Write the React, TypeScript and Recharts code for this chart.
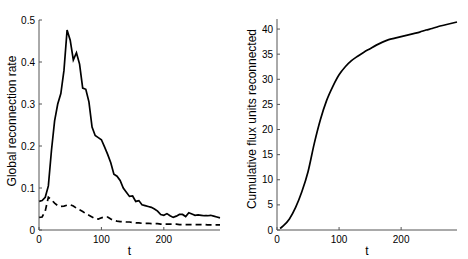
import React from "react";
import { LineChart, Line, XAxis, YAxis } from "recharts";

// ---- Left panel: global reconnection rate ----
const tRate = [0, 5, 10, 15, 20, 25, 30, 35, 40, 45, 50, 55, 60, 65, 70, 75, 80, 85, 90, 95, 100, 105, 110, 115, 120, 125, 130, 135, 140, 145, 150, 155, 160, 165, 170, 175, 180, 185, 190, 195, 200, 205, 210, 215, 220, 225, 230, 235, 240, 245, 250, 255, 260, 265, 270, 275, 280, 285, 290];
const rateSolid = [0.068, 0.07, 0.078, 0.105, 0.19, 0.26, 0.3, 0.325, 0.38, 0.476, 0.452, 0.405, 0.422, 0.395, 0.338, 0.335, 0.305, 0.245, 0.225, 0.22, 0.215, 0.198, 0.18, 0.16, 0.133, 0.128, 0.118, 0.1, 0.09, 0.08, 0.081, 0.068, 0.07, 0.06, 0.058, 0.056, 0.054, 0.05, 0.045, 0.037, 0.035, 0.039, 0.034, 0.03, 0.033, 0.037, 0.037, 0.032, 0.041, 0.038, 0.035, 0.036, 0.035, 0.034, 0.034, 0.035, 0.033, 0.031, 0.029];
const rateDashed = [0.03, 0.031, 0.045, 0.078, 0.072, 0.064, 0.058, 0.056, 0.057, 0.059, 0.06, 0.057, 0.052, 0.048, 0.044, 0.039, 0.035, 0.031, 0.027, 0.026, 0.029, 0.031, 0.031, 0.026, 0.023, 0.021, 0.02, 0.02, 0.019, 0.019, 0.018, 0.017, 0.017, 0.016, 0.016, 0.016, 0.015, 0.015, 0.015, 0.014, 0.014, 0.014, 0.014, 0.014, 0.014, 0.013, 0.013, 0.013, 0.013, 0.013, 0.013, 0.013, 0.013, 0.013, 0.012, 0.012, 0.012, 0.012, 0.012];
const rateTicksY = [0, 0.1, 0.2, 0.3, 0.4, 0.5];

// ---- Right panel: cumulative flux ----
const tCum = [5, 10, 20, 30, 40, 50, 60, 70, 80, 90, 100, 110, 120, 130, 140, 150, 160, 170, 180, 190, 200, 210, 220, 230, 240, 250, 260, 270, 280, 290];
const cumFlux = [0.3, 0.8, 2.2, 4.5, 7.6, 11.6, 17.2, 22.0, 25.8, 28.6, 30.9, 32.5, 33.7, 34.6, 35.4, 36.1, 36.8, 37.4, 37.9, 38.2, 38.5, 38.8, 39.1, 39.4, 39.8, 40.1, 40.5, 40.8, 41.1, 41.4];
const cumTicksY = [0, 5, 10, 15, 20, 25, 30, 35, 40];

const tTicks = [0, 100, 200];

const rateData = tRate.map((t, i) => ({ t, solid: rateSolid[i], dashed: rateDashed[i] }));
const cumData = tCum.map((t, i) => ({ t, v: cumFlux[i] }));

const FONT = "'Liberation Sans', Arial, Helvetica, sans-serif";
const AXIS = "#555";
const H = 259;
const W = 234;

function makeYTick(axisX: number) {
  return (props: any) => {
    const { y, payload } = props;
    return (
      <g>
        <line x1={axisX} x2={axisX + 3} y1={y} y2={y} stroke={AXIS} strokeWidth={1} />
        <text x={axisX - 4} y={y} dy="0.355em" textAnchor="end" fontSize={10} fontFamily={FONT} fill="#000">
          {String(payload.value)}
        </text>
      </g>
    );
  };
}

function makeXTick(axisY: number) {
  return (props: any) => {
    const { x, payload } = props;
    return (
      <g>
        <line x1={x} x2={x} y1={axisY} y2={axisY - 3} stroke={AXIS} strokeWidth={1} />
        <text x={x} y={axisY + 6} dy="0.71em" textAnchor="middle" fontSize={10} fontFamily={FONT} fill="#000">
          {String(payload.value)}
        </text>
      </g>
    );
  };
}

export default function App() {
  const leftAxisX = 39;
  const rightAxisX = 43;
  const axisY = 230;
  return (
    <div style={{ position: "absolute", left: 0, top: 0, width: 468, height: H, background: "#fff", fontFamily: FONT }}>
      <div style={{ position: "absolute", left: 0, top: 0 }}>
        <LineChart width={W} height={H} data={rateData} margin={{ top: 20, right: 14, bottom: 0, left: 0 }}>
          <XAxis
            dataKey="t"
            type="number"
            domain={[0, 290]}
            ticks={tTicks}
            height={29}
            axisLine={{ stroke: AXIS }}
            tickLine={false}
            tick={makeXTick(axisY)}
          />
          <YAxis
            type="number"
            domain={[0, 0.5]}
            ticks={rateTicksY}
            width={leftAxisX}
            axisLine={{ stroke: AXIS }}
            tickLine={false}
            tick={makeYTick(leftAxisX)}
          />
          <Line type="linear" dataKey="solid" stroke="#000" strokeWidth={1.7} dot={false} isAnimationActive={false} />
          <Line type="linear" dataKey="dashed" stroke="#000" strokeWidth={1.7} strokeDasharray="6 4" dot={false} isAnimationActive={false} />
        </LineChart>
      </div>
      <div style={{ position: "absolute", left: W, top: 0 }}>
        <LineChart width={W} height={H} data={cumData} margin={{ top: 19, right: 11, bottom: 0, left: 0 }}>
          <XAxis
            dataKey="t"
            type="number"
            domain={[0, 290]}
            ticks={tTicks}
            height={29}
            axisLine={{ stroke: AXIS }}
            tickLine={false}
            tick={makeXTick(axisY)}
          />
          <YAxis
            type="number"
            domain={[0, 42]}
            ticks={cumTicksY}
            width={rightAxisX}
            axisLine={{ stroke: AXIS }}
            tickLine={false}
            tick={makeYTick(rightAxisX)}
          />
          <Line type="monotone" dataKey="v" stroke="#000" strokeWidth={1.7} dot={false} isAnimationActive={false} />
        </LineChart>
      </div>
      <svg style={{ position: "absolute", left: 0, top: 0, pointerEvents: "none" }} width={468} height={H}>
        <text x={129.5} y={255} textAnchor="middle" fontSize={12} fontFamily={FONT} fill="#000">t</text>
        <text x={367} y={255} textAnchor="middle" fontSize={12} fontFamily={FONT} fill="#000">t</text>
        <text x={16} y={121} textAnchor="middle" fontSize={12} fontFamily={FONT} fill="#000" transform="rotate(-90 16 121)">
          Global reconnection rate
        </text>
        <text x={256} y={119} textAnchor="middle" fontSize={12} fontFamily={FONT} fill="#000" transform="rotate(-90 256 119)">
          Cumulative flux units reconnected
        </text>
      </svg>
    </div>
  );
}
